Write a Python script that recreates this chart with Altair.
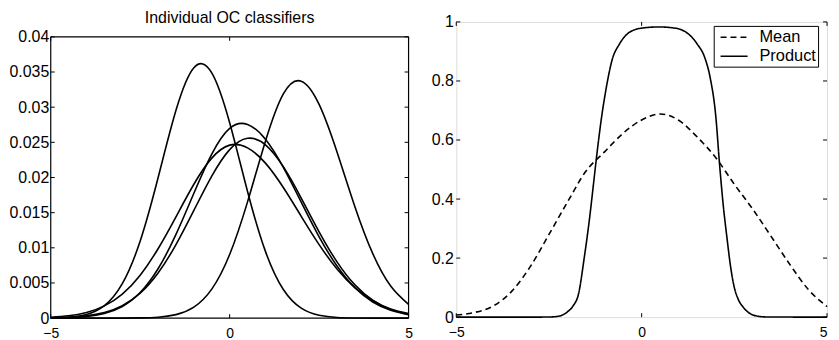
import altair as alt
import pandas as pd

# ---------------- data ----------------
x_grid = [-5.0, -4.5, -4.0, -3.5, -3.0, -2.5, -2.0, -1.5, -1.0, -0.5, 0.0,
          0.5, 1.0, 1.5, 2.0, 2.5, 3.0, 3.5, 4.0, 4.5, 5.0]

curve_a = [0.00002, 0.00013, 0.00053, 0.00178, 0.0049, 0.01097, 0.01997, 0.02956,
           0.03561, 0.03488, 0.02779, 0.01801, 0.00949, 0.00407, 0.00142, 0.0004,
           0.00009, 0.00002, 0.0, 0.0, 0.0]
curve_b = [0.0, 0.0, 0.0, 0.0, 0.000005, 0.00003, 0.00013, 0.0005, 0.00157, 0.00413,
           0.00905, 0.01653, 0.02515, 0.03188, 0.0337, 0.03039, 0.02363, 0.01585,
           0.00917, 0.00457, 0.00197]
curve_c = [0.00002, 0.000074, 0.00024, 0.00067, 0.00166, 0.00364, 0.00702, 0.0119,
           0.01776, 0.02333, 0.02699, 0.02754, 0.02545, 0.02145, 0.0165, 0.01157,
           0.00741, 0.00432, 0.0023, 0.00112, 0.0005]
curve_d = [0.00004, 0.00012, 0.00032, 0.00079, 0.00177, 0.00355, 0.00642, 0.01046,
           0.01532, 0.0202, 0.02396, 0.02558, 0.02465, 0.02154, 0.01708, 0.01228,
           0.008, 0.00473, 0.00254, 0.00123, 0.00055]
curve_e = [0.00012, 0.00033, 0.0008, 0.00174, 0.00342, 0.00611, 0.00987, 0.01441,
           0.01904, 0.02275, 0.0246, 0.02421, 0.02204, 0.01857, 0.01448, 0.01046,
           0.00699, 0.00433, 0.00248, 0.00131, 0.00065]

mean_vals = [0.007, 0.016, 0.038, 0.088, 0.172, 0.28, 0.39, 0.495, 0.56, 0.623,
             0.668, 0.688, 0.667, 0.61, 0.54, 0.45, 0.365, 0.272, 0.178, 0.093, 0.036]

prod_x = [-5.0, -3.0, -2.5, -2.25, -2.0, -1.85, -1.7, -1.55, -1.4, -1.3, -1.2, -1.1,
          -0.95, -0.8, -0.6, -0.4, -0.2, 0.0, 0.45, 0.9, 1.1, 1.3, 1.5, 1.7, 1.85,
          2.0, 2.1, 2.2, 2.3, 2.4, 2.5, 2.6, 2.75, 2.9, 3.1, 3.4, 5.0]
prod_vals = [0.0, 0.0, 0.0005, 0.003, 0.018, 0.038, 0.08, 0.2, 0.34, 0.45, 0.56, 0.66,
             0.78, 0.87, 0.925, 0.958, 0.973, 0.979, 0.983, 0.979, 0.972, 0.955, 0.925,
             0.88, 0.81, 0.68, 0.52, 0.38, 0.27, 0.17, 0.1, 0.062, 0.032, 0.014, 0.004,
             0.0005, 0.0]

x_ticks = [-5, 0, 5]
left_y_ticks = [0, 0.005, 0.01, 0.015, 0.02, 0.025, 0.03, 0.035, 0.04]
right_y_ticks = [0, 0.2, 0.4, 0.6, 0.8, 1]
series_names = ["Mean", "Product"]
left_title = "Individual OC classifiers"

FONT = "Liberation Sans"
LW, LH, LTOP = 360, 298, 15      # left view; its plot box starts LTOP px below the view top
RW, RH = 373, 297
TICK = 4
FRAME_W = 1.2

# ---------------- tables ----------------
left_rows = []
for name, vals in zip(["a", "b", "c", "d", "e"],
                      [curve_a, curve_b, curve_c, curve_d, curve_e]):
    for xv, yv in zip(x_grid, vals):
        left_rows.append({"x": xv, "y": yv, "curve": name})
left_df = pd.DataFrame(left_rows)

right_rows = [{"x": xv, "y": yv, "series": "Mean"} for xv, yv in zip(x_grid, mean_vals)]
right_rows += [{"x": xv, "y": yv, "series": "Product"} for xv, yv in zip(prod_x, prod_vals)]
right_df = pd.DataFrame(right_rows)
one_row = pd.DataFrame({"t": [left_title]})


def axis_x(flush_last=False):
    align = "center"
    if flush_last:
        align = {"condition": {"test": "datum.value == 5", "value": "right"}, "value": "center"}
    return alt.Axis(values=x_ticks, title=None, grid=False, ticks=False, domain=False,
                    labelFont=FONT, labelFontSize=14, labelColor="black", labelAlign=align,
                    labelPadding=8, format="~g", labelFlush=False, labelOverlap=False)


def axis_y(vals, pad):
    return alt.Axis(values=vals, title=None, grid=False, ticks=False, domain=False,
                    labelFont=FONT, labelFontSize=16, labelColor="black",
                    labelPadding=pad, format="~g", labelFlush=False, labelOverlap=False)


def inward_ticks(xt, yt, xenc, yenc, w, top, bottom):
    dy = pd.DataFrame({"v": yt})
    dx = pd.DataFrame({"v": xt})
    by = alt.Chart(dy).mark_rule(color="black", strokeWidth=1)
    bx = alt.Chart(dx).mark_rule(color="black", strokeWidth=1)
    return [
        by.encode(y=yenc("v:Q"), x=alt.value(0), x2=alt.value(TICK)),
        by.encode(y=yenc("v:Q"), x=alt.value(w - TICK), x2=alt.value(w)),
        bx.encode(x=xenc("v:Q"), y=alt.value(bottom), y2=alt.value(bottom - TICK)),
        bx.encode(x=xenc("v:Q"), y=alt.value(top), y2=alt.value(top + TICK)),
    ]


xs = alt.Scale(domain=[-5, 5], nice=False, zero=False)
ys_left = alt.Scale(domain=[0, 0.04], nice=False, zero=False, range=[LH, LTOP])
ys_right = alt.Scale(domain=[0, 1], nice=False, zero=False)


def lx(f):
    return alt.X(f, scale=xs, axis=axis_x())


def rx(f):
    return alt.X(f, scale=xs, axis=axis_x(flush_last=True))


def ly(f):
    return alt.Y(f, scale=ys_left, axis=axis_y(left_y_ticks, 2))


def ry(f):
    return alt.Y(f, scale=ys_right, axis=axis_y(right_y_ticks, 3))


# ---------------- left panel ----------------
left_lines = alt.Chart(left_df).mark_line(
    color="black", strokeWidth=1.6, interpolate="natural"
).encode(x=lx("x:Q"), y=ly("y:Q"), detail="curve:N")

frame = alt.Chart(one_row).mark_rule(color="black", strokeWidth=FRAME_W)
left_frame = [
    frame.encode(x=alt.value(0), x2=alt.value(LW), y=alt.value(LTOP)),
    frame.encode(x=alt.value(0), x2=alt.value(LW), y=alt.value(LH)),
    frame.encode(x=alt.value(0), y=alt.value(LTOP), y2=alt.value(LH)),
    frame.encode(x=alt.value(LW), y=alt.value(LTOP), y2=alt.value(LH)),
]
title_mark = alt.Chart(one_row).mark_text(
    font=FONT, fontSize=16, color="black", align="center", baseline="alphabetic"
).encode(text="t:N", x=alt.value(LW / 2), y=alt.value(1.5))

left = alt.layer(
    left_lines, *left_frame,
    *inward_ticks(x_ticks, left_y_ticks, lx, ly, LW, LTOP, LH),
    title_mark,
).properties(width=LW, height=LH, view=alt.ViewBackground(stroke="transparent"))

# ---------------- right panel ----------------
right_lines = alt.Chart(right_df).mark_line(
    color="black", strokeWidth=1.6, interpolate="monotone"
).encode(
    x=rx("x:Q"),
    y=ry("y:Q"),
    strokeDash=alt.StrokeDash(
        "series:N",
        scale=alt.Scale(domain=series_names, range=[[6, 4], [1, 0]]),
        legend=alt.Legend(title=None, orient="none", legendX=259, legendY=4,
                          strokeColor="black", fillColor="white", padding=2,
                          symbolType="M-1.6,0H1.6", symbolSize=289, symbolStrokeWidth=1.5,
                          symbolStrokeColor="black", labelFont=FONT, labelFontSize=16.5,
                          labelColor="black", rowPadding=1, labelOffset=16,
                          symbolOffset=9, labelExpr="datum.label + ' '"),
    ),
)

right = alt.layer(
    right_lines, *inward_ticks(x_ticks, right_y_ticks, rx, ry, RW, 0, RH)
).properties(width=RW, height=RH)

chart = alt.hconcat(left, right, spacing=17).resolve_legend(
    strokeDash="independent"
).properties(
    padding={"left": 0, "top": 1, "right": 0, "bottom": 0}
).configure_view(stroke="black", strokeWidth=FRAME_W).configure(background="white")

chart.save("out.html", embed_options={"renderer": "svg", "actions": False})
